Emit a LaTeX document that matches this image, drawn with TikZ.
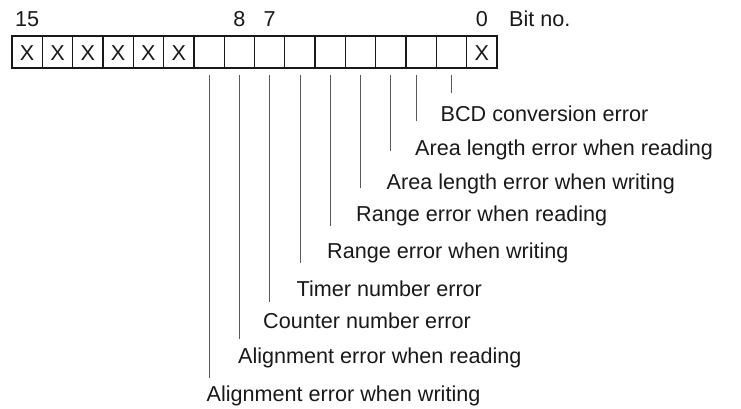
\documentclass[tikz,border=0pt]{standalone}
\usepackage{fontspec}
\setmainfont{Liberation Sans}
\begin{document}
\begin{tikzpicture}[x=1pt,y=-1pt,
  bitbox/.style={draw=black!90,line width=1.3pt,minimum width=30.3125pt,minimum height=32pt,inner sep=0pt,outer sep=0pt,anchor=north west,font=\fontsize{21.6}{24}\selectfont},
  lbl/.style={anchor=base west,inner sep=0pt,font=\fontsize{21.6}{24}\selectfont,text=black!90},
  num/.style={anchor=base,inner sep=0pt,font=\fontsize{21.6}{24}\selectfont,text=black!90},
  conn/.style={draw=black!65,line width=0.9pt}]
\useasboundingbox (0,0) rectangle (741,408);
% boxes: bit 15 at left
\foreach \i in {0,...,15}{
  \pgfmathtruncatemacro{\bit}{15-\i}
  \pgfmathsetmacro{\xx}{12+\i*30.3125}
  \node[bitbox] (b\bit) at (\xx,36) {};
}
\foreach \b in {15,14,13,12,11,10,0}{
  \node[num,anchor=center] at ([yshift=-1pt]b\b.center) {X};
}
% bit numbers
\node[num] (n15) at (b15.center |- 0,26) {15};
\node[num] (n8) at (b8.center |- 0,26) {8};
\node[num] (n7) at (b7.center |- 0,26) {7};
\node[num] (n0) at (b0.center |- 0,26) {0};
\node[lbl] (bitno) at (509,26) {Bit no.};
% connector end points
\coordinate (e1) at (b1.center |- 0,93);
\coordinate (e2) at ([xshift=-5pt]b2.center |- 0,121);
\coordinate (e3) at (b3.center |- 0,151);
\coordinate (e4) at (b4.center |- 0,188);
\coordinate (e5) at (b5.center |- 0,226);
\coordinate (e6) at (b6.center |- 0,263);
\coordinate (e7) at (b7.center |- 0,302);
\coordinate (e8) at (b8.center |- 0,339);
\coordinate (e9) at (b9.center |- 0,378);
\draw[conn] (b1.center |- 0,75) -- (e1);
\draw[conn] ([xshift=-5pt]b2.center |- 0,75) -- (e2);
\foreach \b in {3,...,9}{
  \draw[conn] (b\b.center |- 0,75) -- (e\b);
}
% labels
\node[lbl] (l1) at (440.5,121.7) {BCD conversion error};
\node[lbl] (l2) at (415,155) {Area length error when reading};
\node[lbl] (l3) at (386.5,189.3) {Area length error when writing};
\node[lbl] (l4) at (356,221) {Range error when reading};
\node[lbl] (l5) at (327,258.3) {Range error when writing};
\node[lbl] (l6) at (296.5,296) {Timer number error};
\node[lbl] (l7) at (263,328.3) {Counter number error};
\node[lbl] (l8) at (238,363.3) {Alignment error when reading};
\node[lbl] (l9) at (206.5,401) {Alignment error when writing};
\end{tikzpicture}
\end{document}
